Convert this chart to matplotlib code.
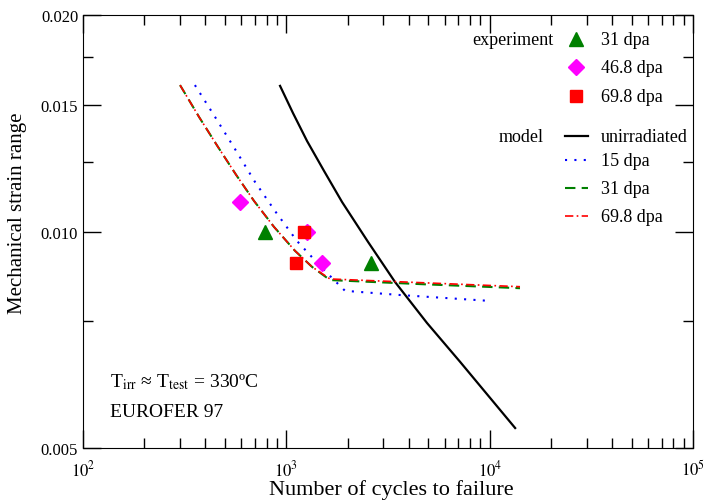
import matplotlib
matplotlib.use("Agg")
import matplotlib.pyplot as plt
from matplotlib.ticker import FixedLocator, NullFormatter, LogLocator

plt.rcParams['font.family'] = ['Liberation Serif', 'DejaVu Serif']
plt.rcParams['mathtext.fontset'] = 'stix'

# experiment data
exp31_n = [785, 2610]
exp31_e = [0.0100, 0.00904]
exp468_n = [591, 1265, 1500]
exp468_e = [0.01098, 0.0100, 0.00903]
exp698_n = [1222, 1116]
exp698_e = [0.0100, 0.00904]

# model curves
unirr_n = [931, 1078, 1264, 1532, 1879, 2523, 3420, 4918, 7145, 13340]
unirr_e = [0.01594, 0.01461, 0.01336, 0.01214, 0.01099, 0.00967, 0.00851, 0.00746, 0.00659, 0.00533]
m15_n = [355, 446, 559, 701, 879, 1128, 1432, 1696, 1943, 3622, 9820]
m15_e = [0.01598, 0.01443, 0.01302, 0.01172, 0.01068, 0.00970, 0.00902, 0.00859, 0.00827, 0.00816, 0.00801]
m31_n = [300, 372, 461, 566, 693, 869, 1103, 1337, 1640, 4540, 14090]
m31_e = [0.01598, 0.01443, 0.01311, 0.01199, 0.01103, 0.01015, 0.00940, 0.00893, 0.00856, 0.00845, 0.00834]
m698_n = [300, 372, 461, 566, 693, 869, 1103, 1337, 1640, 4540, 14090]
m698_e = [0.01598, 0.01443, 0.01311, 0.01199, 0.01103, 0.01015, 0.00940, 0.00893, 0.00859, 0.00849, 0.00838]

fig = plt.figure(figsize=(7.09, 5.02), dpi=100)
ax = fig.add_axes([0.1171, 0.1056, 0.8604, 0.8625])

ax.plot(unirr_n, unirr_e, color='black', lw=1.6)
ax.plot(m15_n, m15_e, color='blue', lw=1.5, ls=(0, (1, 3.5)))
ax.plot(m31_n, m31_e, color='green', lw=1.5, ls=(0, (5, 3)))
ax.plot(m698_n, m698_e, color='red', lw=1.2, ls=(0, (5, 2, 1, 2)))

ax.plot(exp31_n, exp31_e, '^', color='green', ms=10, ls='none')
ax.plot(exp468_n, exp468_e, 'D', color='magenta', ms=8, ls='none')
ax.plot(exp698_n, exp698_e, 's', color='red', ms=8.5, ls='none')

ax.set_xscale('log')
ax.set_yscale('log')
ax.set_xlim(100, 100000)
ax.set_ylim(0.005, 0.020)

ax.xaxis.set_major_locator(FixedLocator([1e2, 1e3, 1e4, 1e5]))
ax.xaxis.set_minor_locator(LogLocator(base=10, subs=range(2, 10)))
ax.set_xticklabels([r'$10^2$', r'$10^3$', r'$10^4$', r'$10^5$'])
ax.xaxis.set_minor_formatter(NullFormatter())
ax.yaxis.set_major_locator(FixedLocator([0.005, 0.010, 0.015, 0.020]))
ax.yaxis.set_minor_locator(FixedLocator([0.0075, 0.0125, 0.0175]))
ax.set_yticklabels(['0.005', '0.010', '0.015', '0.020'])
ax.yaxis.set_minor_formatter(NullFormatter())

ax.tick_params(which='both', direction='in', top=True, right=True, labelsize=12)
ax.tick_params(which='major', length=13, width=1)
ax.tick_params(which='minor', length=7, width=1)
ax.tick_params(axis='x', pad=8)

ax.set_xlabel('Number of cycles to failure', fontsize=16)
ax.set_ylabel('Mechanical strain range', fontsize=15)
ax.xaxis.set_label_coords(0.505, -0.072)
ax.yaxis.set_label_coords(-0.092, 0.545)

# legend drawn by hand
tr = ax.transAxes
def ax_xy(px, py):
    return ((px - 83) / 610, (449 - py) / 433)

x, y = ax_xy(553, 40)
ax.text(x, y, 'experiment', transform=tr, ha='right', va='center', fontsize=13)
x, y = ax_xy(544, 137)
ax.text(x, y, 'model', transform=tr, ha='right', va='center', fontsize=13)

exp_labels = ['31 dpa', '46.8 dpa', '69.8 dpa']
exp_style = [('^', 'green', 10), ('D', 'magenta', 8), ('s', 'red', 8.5)]
for (py, lab, (m, c, s)) in zip([40, 68, 97], exp_labels, exp_style):
    mx, my = ax_xy(576, py)
    ax.plot([mx], [my], m, color=c, ms=s, transform=tr, clip_on=False)
    tx, ty = ax_xy(601, py)
    ax.text(tx, ty, lab, transform=tr, va='center', fontsize=13)

mod_labels = ['unirradiated', '15 dpa', '31 dpa', '69.8 dpa']
mod_style = [('black', '-', 1.6), ('blue', (0, (1, 3.5)), 1.5),
             ('green', (0, (5, 3)), 1.5), ('red', (0, (5, 2, 1, 2)), 1.2)]
for (py, lab, (c, ls, lw)) in zip([137, 161, 189, 217], mod_labels, mod_style):
    x0, yy = ax_xy(565, py)
    x1, _ = ax_xy(588, py)
    ax.plot([x0, x1], [yy, yy], color=c, ls=ls, lw=lw, transform=tr)
    tx, ty = ax_xy(601, py)
    ax.text(tx, ty, lab, transform=tr, va='center', fontsize=13)

x, y = ax_xy(110, 382)
ax.text(x, y, r'T$_{\rm irr}$ ≈ T$_{\rm test}$ = 330ºC', transform=tr, va='center', fontsize=14)
x, y = ax_xy(110, 413)
ax.text(x, y, 'EUROFER 97', transform=tr, va='center', fontsize=14)

fig.savefig('out.png', dpi=100)
